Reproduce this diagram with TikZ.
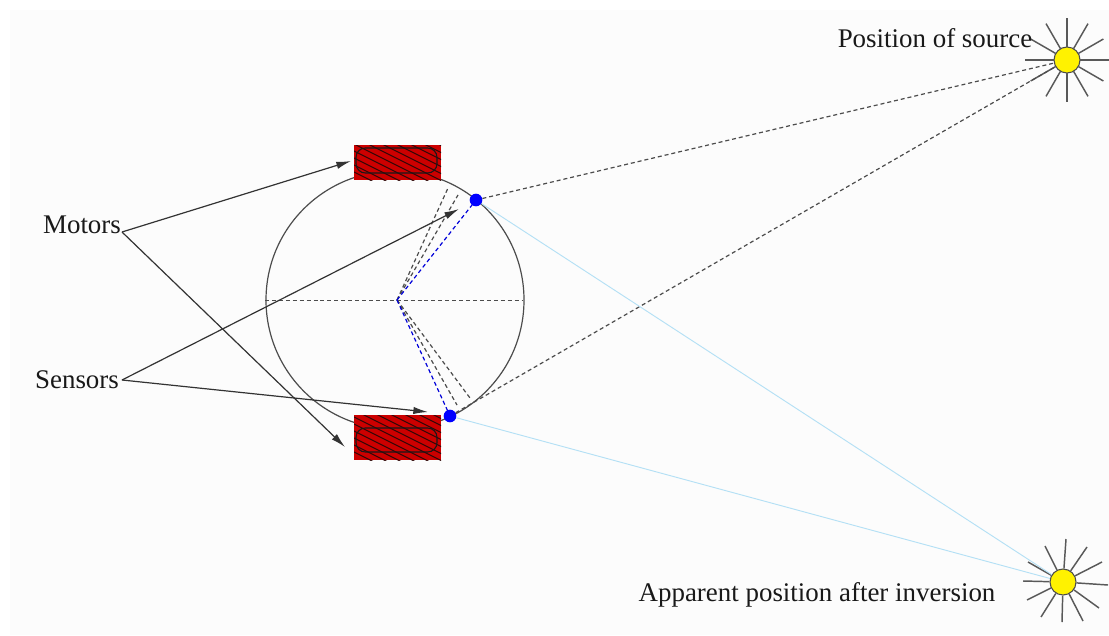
\documentclass[tikz,border=0pt]{standalone}
\usepackage{fontspec}
\setmainfont{Liberation Serif}
\usetikzlibrary{arrows.meta}
\definecolor{bgc}{HTML}{FCFCFC}
\definecolor{redc}{HTML}{CC0000}
\definecolor{skyc}{HTML}{B4E0F5}
\definecolor{hatchc}{HTML}{300808}
\tikzset{
  x=0.75pt,y=-0.75pt,
  lab/.style={font=\fontsize{20.2}{22}\selectfont,inner sep=0pt,text=black!90},
  arr/.style={draw=black!80,line width=0.9pt,-{Latex[length=11pt,width=5.5pt]}},
  dashline/.style={draw=black!70,line width=0.9pt,dash pattern=on 3pt off 2.2pt},
  bdashline/.style={draw=blue!85!black,line width=0.9pt,dash pattern=on 3pt off 2.2pt},
  skyline/.style={draw=skyc,line width=0.7pt},
  sensor/.style={circle,fill=blue,inner sep=0pt,minimum size=9.5pt},
  sun/.style={circle,draw=black!70,fill=yellow,line width=0.8pt,inner sep=0pt,minimum size=19.5pt},
  ray/.style={draw=black!65,line width=1.1pt},
  inner/.style={draw=black!90,line width=0.8pt,rounded corners=7pt},
  hatch/.style={draw=hatchc,line width=0.7pt},
  hub/.style={coordinate}
}
\begin{document}
\begin{tikzpicture}
\useasboundingbox (0,0) rectangle (1109,635);
\fill[bgc] (10,10) rectangle (1109,635);
% body
\node[hub] (C) at (397,300) {};
\node[hub] (L) at (265,300.5) {};
\node[hub] (R) at (523,300.5) {};
\node[hub] (body) at (395,300) {};
\draw[black!70,line width=0.9pt] (body) circle[radius=129];
% dashed geometry
\node[hub] (t1) at (448,188) {};
\node[hub] (t2) at (458,195) {};
\node[hub] (b1) at (470,398) {};
\node[hub] (b2) at (457,405) {};
\node[hub] (s1c) at (476,200) {};
\node[hub] (s2c) at (450,416) {};
\draw[dashline] (L) -- (R);
\draw[dashline] (C) -- (t1);
\draw[dashline] (C) -- (t2);
\draw[dashline] (C) -- (b1);
\draw[dashline] (C) -- (b2);
\draw[bdashline] (C) -- (s1c);
\draw[bdashline] (C) -- (s2c);
\node[sensor] (s1) at (s1c) {};
\node[sensor] (s2) at (s2c) {};
% motors
\fill[redc] (354,145) rectangle (441,180);
\fill[redc] (354,415) rectangle (441,460);
\begin{scope}
\clip (354,145) rectangle (441,180);
\foreach \k in {0,...,14}
  \draw[hatch] (270+14*\k,130) -- ++(120,60);
\end{scope}
\begin{scope}
\clip (354,415) rectangle (441,460);
\foreach \k in {0,...,14}
  \draw[hatch] (260+14*\k,405) -- ++(150,75);
\end{scope}
\draw[inner] (356,148) rectangle (437,173);
\draw[inner] (356,428) rectangle (437,452);
\node[hub] (m1a) at (351,161) {};
\node[hub] (m2a) at (345,447) {};
\node[hub] (s1a) at (459,209) {};
\node[hub] (s2a) at (428,412) {};
% suns
\node[sun] (sunA) at (1067,60) {};
\node[sun] (sunB) at (1063,582) {};
\foreach \a in {0,30,...,330}
  \draw[ray] (sunA.center) ++(\a:13) -- ++(\a:29);
\draw[ray] (sunB) -- (1066,539);
\draw[ray] (sunB) -- (1045,546);
\draw[ray] (sunB) -- (1087,547);
\draw[ray] (sunB) -- (1102,562);
\draw[ray] (sunB) -- (1108,585);
\draw[ray] (sunB) -- (1099,608);
\draw[ray] (sunB) -- (1083,621);
\draw[ray] (sunB) -- (1062,622);
\draw[ray] (sunB) -- (1041,617);
\draw[ray] (sunB) -- (1027,600);
\draw[ray] (sunB) -- (1023,581);
\draw[ray] (sunB) -- (1028,562);
\draw[dashline] (s1) -- (sunA);
\draw[dashline] (s2) -- (sunA);
\draw[skyline] (s1) -- (sunB);
\draw[skyline] (s2) -- (sunB);
% labels
\node[lab] (motors) at (82,225) {Motors};
\node[lab] (sensors) at (77,380) {Sensors};
\node[lab] (src) at (935,38) {Position of source};
\node[lab] (app) at (817,595) {Apparent position after inversion};
\node[hub] (mo) at (122,232) {};
\node[hub] (se) at (122,380) {};
\draw[arr] (mo) -- (m1a);
\draw[arr] (mo) -- (m2a);
\draw[arr] (se) -- (s1a);
\draw[arr] (se) -- (s2a);
\end{tikzpicture}
\end{document}
